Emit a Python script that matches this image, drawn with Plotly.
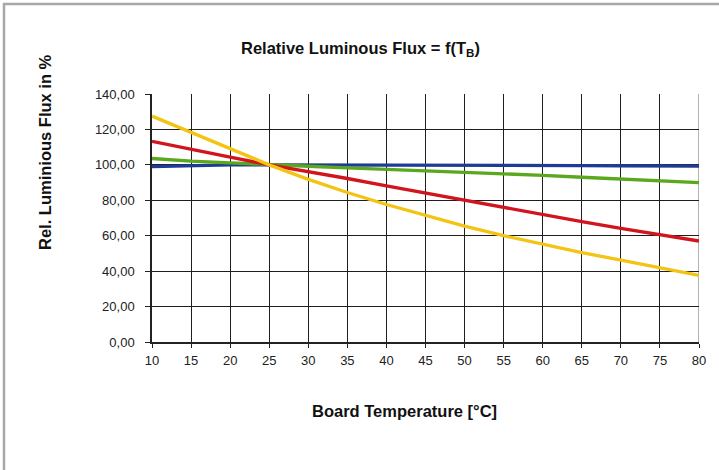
import plotly.graph_objects as go

temps = [10, 15, 20, 25, 30, 35, 40, 45, 50, 55, 60, 65, 70, 75, 80]
blue_vals = [99.0, 99.6, 100.0, 100.0, 100.0, 100.0, 100.0, 100.0, 99.9, 99.8, 99.7, 99.6, 99.5, 99.4, 99.3]
green_vals = [103.6, 102.1, 101.1, 100.0, 99.2, 98.3, 97.5, 96.6, 95.7, 94.9, 94.1, 93.0, 92.0, 91.0, 90.0]
red_vals = [113.3, 108.6, 104.3, 100.0, 96.3, 92.3, 88.2, 84.1, 80.1, 75.9, 71.7, 67.9, 64.1, 60.4, 57.0]
yellow_vals = [127.5, 118.3, 109.1, 100.0, 91.8, 84.4, 77.6, 71.3, 65.4, 60.0, 55.1, 50.5, 46.2, 42.0, 37.6]

y_ticks = [0, 20, 40, 60, 80, 100, 120, 140]
y_ticklabels = ["0,00", "20,00", "40,00", "60,00", "80,00", "100,00", "120,00", "140,00"]
x_ticks = temps

series = [
    ("blue", blue_vals, "#1e3c96"),
    ("green", green_vals, "#5aa81e"),
    ("red", red_vals, "#d2141e"),
    ("yellow", yellow_vals, "#f3c414"),
]

fig = go.Figure()
for name, vals, col in series:
    fig.add_trace(go.Scatter(x=temps, y=vals, mode="lines", name=name,
                             line=dict(color=col, width=3.3), showlegend=False))

L, R, T, B = 152, 20, 94, 128
W, H = 719, 470
pw, ph = W - L - R, H - T - B

def px(xp):
    return (xp - L) / pw

def py(yp):
    return (H - B - yp) / ph

fig.update_layout(
    width=W, height=H,
    margin=dict(l=L, r=R, t=T, b=B, pad=0),
    paper_bgcolor="white", plot_bgcolor="white",
    font=dict(family="Liberation Sans, Arial, sans-serif", color="#222222", size=13),
    xaxis=dict(range=[10, 80], tickvals=x_ticks, ticktext=[str(t) for t in x_ticks],
               showgrid=True, gridcolor="#1e1e1e", gridwidth=1.2,
               showline=True, linecolor="#222222", linewidth=1.5,
               ticks="outside", ticklen=4, tickcolor="#222222",
               zeroline=False, tickfont=dict(size=13), ticklabelstandoff=2),
    yaxis=dict(range=[0, 140], tickvals=y_ticks, ticktext=y_ticklabels,
               showgrid=True, gridcolor="#1e1e1e", gridwidth=1.2,
               showline=True, linecolor="#222222", linewidth=1.5,
               ticks="outside", ticklen=5, tickcolor="#222222",
               zeroline=False, tickfont=dict(size=13), ticklabelstandoff=8),
    shapes=[
        dict(type="line", xref="x", yref="paper", x0=80, x1=80, y0=0, y1=1,
             line=dict(color="#9a9a9a", width=1.5), layer="between"),
        dict(type="line", xref="paper", yref="paper", x0=px(3), x1=px(W + 5),
             y0=py(4), y1=py(4), line=dict(color="#a8a8a8", width=2.5)),
        dict(type="line", xref="paper", yref="paper", x0=px(4), x1=px(4),
             y0=py(3), y1=py(H + 5), line=dict(color="#a8a8a8", width=2.5)),
    ],
    annotations=[
        dict(text="<b>Relative Luminous Flux = f(T<sub>B</sub>)</b>", xref="paper", yref="paper",
             x=px(360), y=py(49), xanchor="center", yanchor="middle", showarrow=False,
             font=dict(size=16.5, color="#111111")),
        dict(text="<b>Rel. Luminious Flux in %</b>", xref="paper", yref="paper",
             x=px(45), y=py(152), xanchor="center", yanchor="middle", showarrow=False,
             textangle=-90, font=dict(size=16.5, color="#111111")),
        dict(text="<b>Board Temperature [°C]</b>", xref="paper", yref="paper",
             x=px(404), y=py(411), xanchor="center", yanchor="middle", showarrow=False,
             font=dict(size=16.5, color="#111111")),
    ],
)

fig.write_html("out.html", config={"displayModeBar": False},
               post_script="document.body.style.margin='0';document.body.style.overflow='hidden';")
